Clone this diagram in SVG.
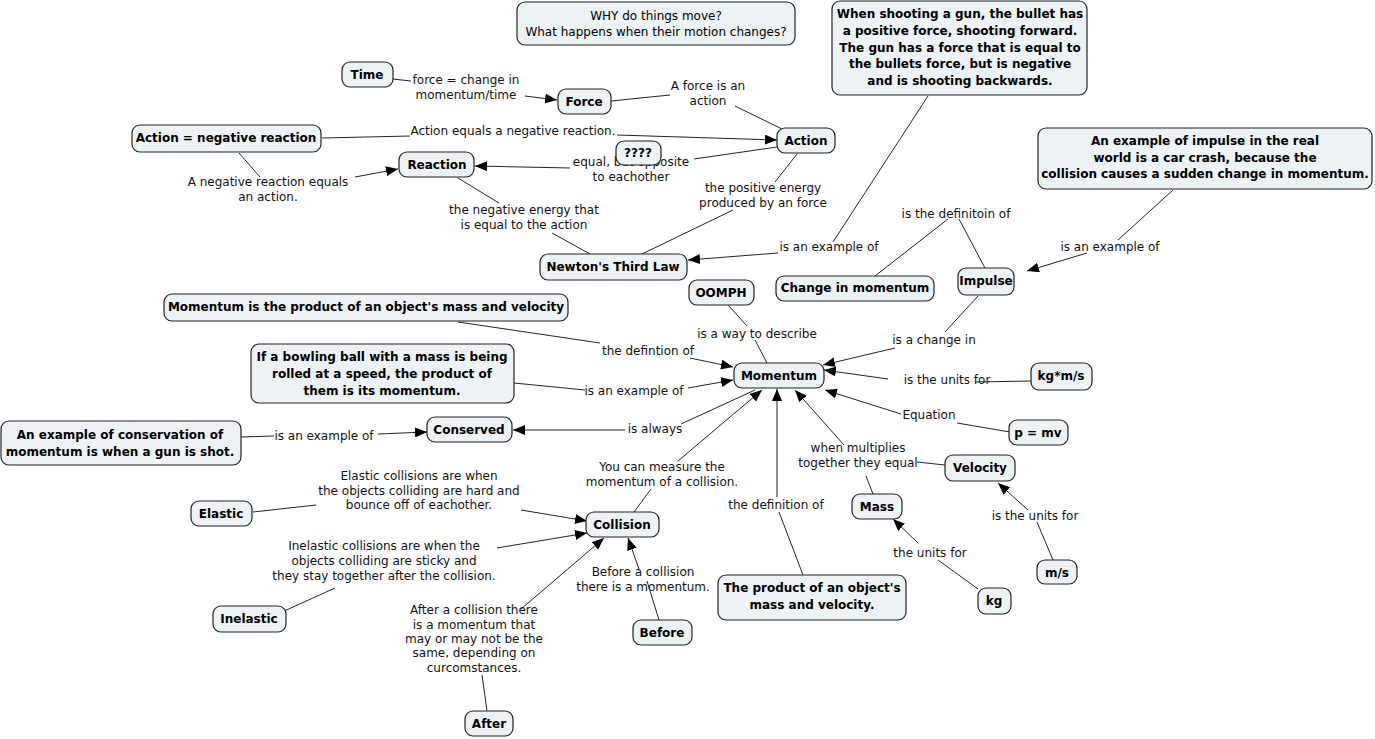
<svg xmlns="http://www.w3.org/2000/svg" width="1375" height="739" viewBox="0 0 1375 739">
<defs>
<style>
.n rect{fill:#edf3f5;stroke:#222;stroke-width:1.2}
.n text{font-family:"DejaVu Sans",Verdana,sans-serif;font-size:12px;font-weight:bold;fill:#000;text-anchor:middle}
.n.r text{font-weight:normal}
.l{font-family:"DejaVu Sans",Verdana,sans-serif;font-size:12px;fill:#111;text-anchor:middle}
#connectors line,#connectors polyline{stroke:#222;stroke-width:1;fill:none}
.a{marker-end:url(#ah)}
</style>
<marker id="ah" viewBox="0 0 12 10" refX="12" refY="5" markerWidth="12" markerHeight="10" markerUnits="userSpaceOnUse" orient="auto">
<path d="M0,0 L12,5 L0,10 z" fill="#000"/>
</marker>
</defs>
<rect width="1375" height="739" fill="#fff"/>

<g id="connectors">
<line x1="393" y1="79" x2="411" y2="81"/>
<line class="a" x1="525" y1="96" x2="557" y2="100"/>
<line x1="611" y1="101" x2="670" y2="95"/>
<line x1="735" y1="106" x2="782" y2="129"/>
<line x1="322" y1="138" x2="410" y2="136"/>
<line class="a" x1="617" y1="135" x2="777" y2="140"/>
<line x1="777" y1="147" x2="694" y2="159"/>
<line class="a" x1="570" y1="168" x2="475" y2="166"/>
<line x1="239" y1="153" x2="260" y2="177"/>
<line class="a" x1="355" y1="177" x2="398" y2="169"/>
<line x1="458" y1="178" x2="499" y2="203"/>
<line x1="552" y1="233" x2="590" y2="254"/>
<line x1="797" y1="154" x2="775" y2="182"/>
<line x1="733" y1="210" x2="642" y2="254"/>
<line x1="928" y1="96" x2="833" y2="242"/>
<line class="a" x1="778" y1="253" x2="688" y2="260"/>
<line x1="875" y1="276" x2="948" y2="219"/>
<line x1="959" y1="219" x2="985" y2="268"/>
<line x1="1173" y1="190" x2="1118" y2="240"/>
<line class="a" x1="1087" y1="253" x2="1027" y2="271"/>
<line x1="728" y1="305" x2="747" y2="326"/>
<line x1="755" y1="340" x2="767" y2="363"/>
<line x1="978" y1="296" x2="945" y2="332"/>
<line class="a" x1="895" y1="348" x2="823" y2="365"/>
<line x1="458" y1="322" x2="600" y2="343"/>
<line class="a" x1="690" y1="358" x2="733" y2="367"/>
<line x1="514" y1="383" x2="585" y2="390"/>
<line class="a" x1="688" y1="388" x2="733" y2="380"/>
<line x1="241" y1="437" x2="274" y2="436"/>
<line class="a" x1="378" y1="434" x2="427" y2="432"/>
<line x1="755" y1="390" x2="681" y2="424"/>
<line class="a" x1="625" y1="430" x2="513" y2="430"/>
<line x1="634" y1="512" x2="651" y2="489"/>
<line class="a" x1="678" y1="461" x2="762" y2="390"/>
<line x1="803" y1="575" x2="779" y2="512"/>
<line class="a" x1="777" y1="497" x2="777" y2="389"/>
<line x1="873" y1="494" x2="866" y2="476"/>
<line x1="945" y1="465" x2="917" y2="462"/>
<line class="a" x1="844" y1="445" x2="795" y2="390"/>
<line x1="253" y1="512" x2="316" y2="505"/>
<line class="a" x1="521" y1="510" x2="587" y2="521"/>
<line x1="282" y1="612" x2="335" y2="588"/>
<line class="a" x1="497" y1="548" x2="587" y2="533"/>
<line x1="659" y1="620" x2="647" y2="581"/>
<line class="a" x1="639" y1="569" x2="628" y2="538"/>
<line x1="487" y1="711" x2="482" y2="675"/>
<line class="a" x1="521" y1="609" x2="604" y2="538"/>
<line x1="1031" y1="381" x2="975" y2="382"/>
<line class="a" x1="888" y1="379" x2="824" y2="370"/>
<line x1="1010" y1="432" x2="957" y2="423"/>
<line class="a" x1="901" y1="414" x2="825" y2="390"/>
<line x1="978" y1="589" x2="938" y2="560"/>
<line class="a" x1="918" y1="543" x2="893" y2="519"/>
<line x1="1053" y1="560" x2="1037" y2="522"/>
<line class="a" x1="1028" y1="510" x2="998" y2="483"/>
</g>

<g id="labels">
<text class="l" x="466" y="84">force = change in<tspan x="466" y="98.5">momentum/time</tspan></text>
<text class="l" x="708" y="90">A force is an<tspan x="708" y="104.5">action</tspan></text>
<text class="l" x="513" y="135">Action equals a negative reaction.</text>
<text class="l" x="631" y="166">equal, but opposite<tspan x="631" y="181">to eachother</tspan></text>
<text class="l" x="268" y="186">A negative reaction equals<tspan x="268" y="201">an action.</tspan></text>
<text class="l" x="524" y="214">the negative energy that<tspan x="524" y="229">is equal to the action</tspan></text>
<text class="l" x="763" y="192">the positive energy<tspan x="763" y="206.5">produced by an force</tspan></text>
<text class="l" x="956" y="218">is the definitoin of</text>
<text class="l" x="829" y="251">is an example of</text>
<text class="l" x="1110" y="251">is an example of</text>
<text class="l" x="757" y="338">is a way to describe</text>
<text class="l" x="934" y="344">is a change in</text>
<text class="l" x="648" y="355">the defintion of</text>
<text class="l" x="634" y="395">is an example of</text>
<text class="l" x="947" y="384">is the units for</text>
<text class="l" x="929" y="419">Equation</text>
<text class="l" x="655" y="433">is always</text>
<text class="l" x="324" y="440">is an example of</text>
<text class="l" x="858" y="452">when multiplies<tspan x="858" y="467">together they equal</tspan></text>
<text class="l" x="662" y="471">You can measure the<tspan x="662" y="486">momentum of a collision.</tspan></text>
<text class="l" x="419" y="480">Elastic collisions are when<tspan x="419" y="495">the objects colliding are hard and</tspan><tspan x="419" y="509">bounce off of eachother.</tspan></text>
<text class="l" x="776" y="509">the definition of</text>
<text class="l" x="1035" y="520">is the units for</text>
<text class="l" x="384" y="550">Inelastic collisions are when the<tspan x="384" y="565">objects colliding are sticky and</tspan><tspan x="384" y="580">they stay together after the collision.</tspan></text>
<text class="l" x="930" y="557">the units for</text>
<text class="l" x="643" y="576">Before a collision<tspan x="643" y="591">there is a momentum.</tspan></text>
<text class="l" x="474" y="614">After a collision there<tspan x="474" y="629">is a momentum that</tspan><tspan x="474" y="643">may or may not be the</tspan><tspan x="474" y="657">same, depending on</tspan><tspan x="474" y="672">curcomstances.</tspan></text>
</g>

<g id="n-why" class="n r"><rect x="517" y="2" width="278" height="43" rx="8"/><text x="656" y="20">WHY do things move?<tspan x="656" y="36">What happens when their motion changes?</tspan></text></g>
<g id="n-shoot" class="n"><rect x="832" y="1" width="255" height="94" rx="8"/><text x="960" y="18">When shooting a gun, the bullet has<tspan x="960" y="35">a positive force, shooting forward.</tspan><tspan x="960" y="51.5">The gun has a force that is equal to</tspan><tspan x="960" y="68">the bullets force, but is negative</tspan><tspan x="960" y="85">and is shooting backwards.</tspan></text></g>
<g id="n-time" class="n"><rect x="342" y="62" width="51" height="25" rx="8"/><text x="367" y="79">Time</text></g>
<g id="n-force" class="n"><rect x="558" y="89" width="53" height="25" rx="8"/><text x="584" y="106">Force</text></g>
<g id="n-actneg" class="n"><rect x="132" y="125" width="189" height="27" rx="8"/><text x="226" y="142">Action = negative reaction</text></g>
<g id="n-action" class="n"><rect x="777" y="128" width="58" height="25" rx="8"/><text x="806" y="145">Action</text></g>
<g id="n-reaction" class="n"><rect x="399" y="152" width="75" height="25" rx="8"/><text x="437" y="169">Reaction</text></g>
<g id="n-q" class="n"><rect x="616" y="141" width="45" height="24" rx="8"/><text x="638" y="157">????</text></g>
<g id="n-impex" class="n"><rect x="1038" y="128" width="334" height="61" rx="8"/><text x="1205" y="145">An example of impulse in the real<tspan x="1205" y="161.5">world is a car crash, because the</tspan><tspan x="1205" y="178">collision causes a sudden change in momentum.</tspan></text></g>
<g id="n-newton" class="n"><rect x="540" y="254" width="147" height="26" rx="8"/><text x="613" y="271">Newton's Third Law</text></g>
<g id="n-change" class="n"><rect x="776" y="276" width="158" height="25" rx="8"/><text x="855" y="292">Change in momentum</text></g>
<g id="n-impulse" class="n"><rect x="958" y="268" width="56" height="27" rx="8"/><text x="986" y="285">Impulse</text></g>
<g id="n-oomph" class="n"><rect x="689" y="280" width="65" height="25" rx="8"/><text x="721" y="297">OOMPH</text></g>
<g id="n-momdef" class="n"><rect x="164" y="294" width="404" height="27" rx="8"/><text x="366" y="311">Momentum is the product of an object's mass and velocity</text></g>
<g id="n-bowl" class="n"><rect x="251" y="344" width="263" height="59" rx="8"/><text x="382" y="361">If a bowling ball with a mass is being<tspan x="382" y="378">rolled at a speed, the product of</tspan><tspan x="382" y="395">them is its momentum.</tspan></text></g>
<g id="n-momentum" class="n"><rect x="734" y="363" width="90" height="25" rx="8"/><text x="779" y="380">Momentum</text></g>
<g id="n-kgms" class="n"><rect x="1031" y="363" width="61" height="27" rx="8"/><text x="1061" y="380">kg*m/s</text></g>
<g id="n-conserved" class="n"><rect x="427" y="417" width="85" height="25" rx="8"/><text x="469" y="434">Conserved</text></g>
<g id="n-consex" class="n"><rect x="1" y="421" width="240" height="44" rx="8"/><text x="120" y="439">An example of conservation of<tspan x="120" y="456">momentum is when a gun is shot.</tspan></text></g>
<g id="n-pmv" class="n"><rect x="1009" y="420" width="59" height="25" rx="8"/><text x="1038" y="437">p = mv</text></g>
<g id="n-velocity" class="n"><rect x="945" y="455" width="70" height="26" rx="8"/><text x="980" y="472">Velocity</text></g>
<g id="n-elastic" class="n"><rect x="191" y="501" width="61" height="25" rx="8"/><text x="221" y="518">Elastic</text></g>
<g id="n-collision" class="n"><rect x="586" y="512" width="73" height="25" rx="8"/><text x="622" y="529">Collision</text></g>
<g id="n-mass" class="n"><rect x="852" y="494" width="50" height="25" rx="8"/><text x="877" y="511">Mass</text></g>
<g id="n-ms" class="n"><rect x="1037" y="560" width="40" height="24" rx="8"/><text x="1057" y="577">m/s</text></g>
<g id="n-prod" class="n"><rect x="718" y="575" width="188" height="45" rx="8"/><text x="812" y="592">The product of an object's<tspan x="812" y="609">mass and velocity.</tspan></text></g>
<g id="n-kg" class="n"><rect x="978" y="588" width="33" height="26" rx="8"/><text x="994" y="605">kg</text></g>
<g id="n-before" class="n"><rect x="633" y="620" width="59" height="25" rx="8"/><text x="662" y="637">Before</text></g>
<g id="n-inelastic" class="n"><rect x="213" y="606" width="73" height="26" rx="8"/><text x="249" y="623">Inelastic</text></g>
<g id="n-after" class="n"><rect x="465" y="711" width="48" height="25" rx="8"/><text x="489" y="728">After</text></g>
</svg>
